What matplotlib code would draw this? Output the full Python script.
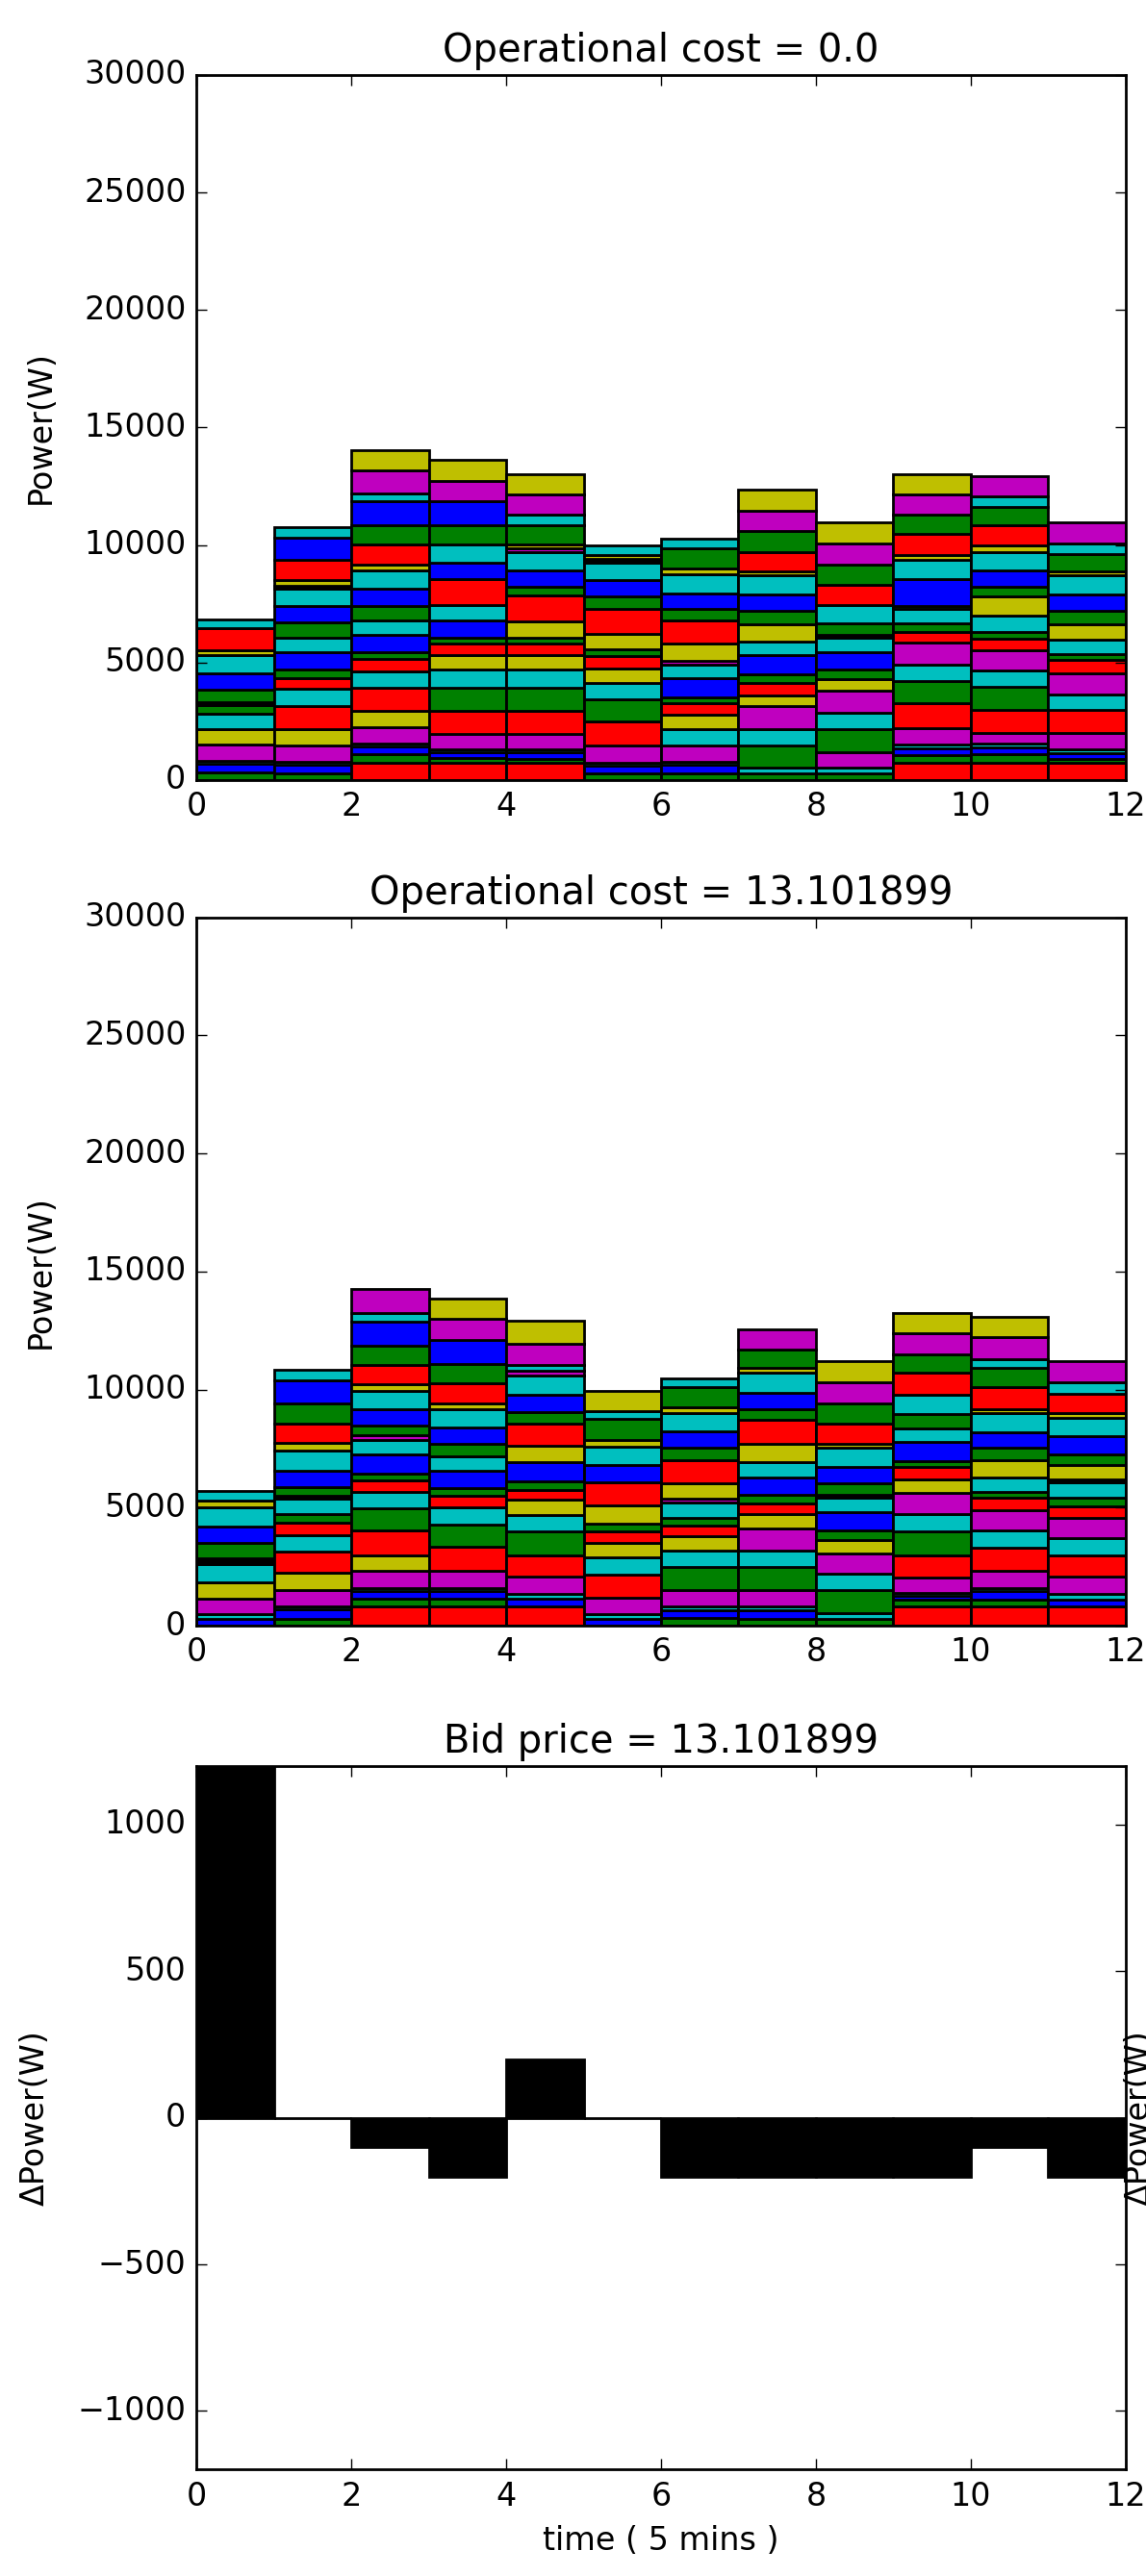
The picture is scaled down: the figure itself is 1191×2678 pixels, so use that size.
import matplotlib
matplotlib.use('Agg')
import matplotlib.pyplot as plt

plt.style.use('classic')
plt.rcParams['font.family'] = ['DejaVu Sans']

# ---------------- data ----------------
time = list(range(12))

# top panel (operational cost = 0.0): per time step, colour codes of stacked segments (bottom -> top)
p1_colors = [
    "gbcmycgkgbcyrc",
    "gbcmyrcrgbcgbckyrbc",
    "rgbcmyrcrgbcgbcyrgbcmy",
    "rgbcmrgcyrgbcrbcgbmy",
    "rgbcmrgcyrgyrgbcmygcmy",
    "gbcmrgcyrgyrgbckyc",
    "gbcmcyrgbcmyrgbcygc",
    "gcgcmyrgbcygbcyrgmy",
    "gcmgcmygbckgcrgmy",
    "rgbcmrgcmrgcgbcyrgmy",
    "rgbcmrgcmrgcygbcyrgcm",
    "rgbcmrcmrgcygbcygcm",
]
p1_heights = [
    [313, 367, 136, 680, 680, 626, 367, 136, 544, 680, 775, 200, 952, 381],
    [286, 367, 136, 680, 707, 966, 734, 449, 367, 748, 612, 653, 680, 775, 109, 245, 843, 952, 449],
    [748, 340, 340, 109, 707, 694, 1006, 680, 544, 272, 748, 612, 612, 721, 775, 272, 830, 816, 1047, 313, 1006, 857],
    [748, 177, 272, 109, 666, 966, 1006, 748, 612, 517, 231, 748, 653, 1115, 694, 748, 816, 1047, 857, 884],
    [748, 136, 313, 109, 666, 966, 1006, 748, 612, 517, 231, 694, 1088, 394, 694, 775, 163, 177, 789, 462, 857, 857],
    [286, 326, 136, 721, 1020, 952, 680, 612, 544, 272, 680, 1047, 544, 680, 762, 163, 163, 408],
    [286, 367, 136, 680, 707, 585, 517, 258, 789, 571, 177, 721, 979, 503, 680, 789, 272, 843, 408],
    [286, 231, 952, 680, 979, 490, 503, 367, 816, 585, 748, 571, 680, 816, 177, 816, 884, 884, 884],
    [286, 231, 680, 952, 707, 952, 476, 408, 748, 612, 136, 476, 789, 843, 857, 911, 884],
    [748, 313, 272, 163, 721, 1047, 952, 680, 952, 449, 367, 612, 136, 1156, 789, 204, 925, 802, 857, 857],
    [748, 340, 313, 136, 476, 952, 1020, 680, 843, 517, 272, 680, 816, 435, 680, 789, 272, 857, 775, 476, 843],
    [748, 136, 245, 163, 721, 952, 680, 911, 544, 272, 612, 653, 571, 680, 816, 177, 748, 435, 884],
]

# middle panel (operational cost = 13.101899)
p2_colors = [
    "bcmyckgbcyc",
    "gbcmyrcrgckgbcyrgbc",
    "rgbcmyrgcrgbcmgbcyrgbcm",
    "rgbcmrgcrgbcgbcyrgbmy",
    "rbcmrgcyrgbyrgbcmcmy",
    "bcmrcyrgyrbcygcy",
    "gbcmgcyrgcmyrgbcygc",
    "gbcmgcmyrgbcyrgbcygm",
    "gcgcmygbckgbcyrgmy",
    "rgbcmrgcmyrgbcgcrgmy",
    "rgbcmrcmrgcygbcyrgcmy",
    "rbcmrcmrgckygbcyrcm",
]
p2_heights = [
    [286, 190, 680, 680, 789, 231, 653, 707, 789, 299, 422],
    [286, 394, 136, 680, 748, 884, 721, 503, 381, 639, 136, 381, 680, 843, 313, 843, 857, 979, 449],
    [816, 313, 340, 136, 707, 680, 1034, 952, 707, 476, 299, 789, 612, 204, 408, 707, 748, 313, 816, 816, 1020, 367, 993],
    [816, 313, 340, 136, 707, 1034, 952, 707, 503, 313, 748, 612, 503, 721, 775, 245, 857, 802, 1020, 884, 884],
    [816, 313, 231, 721, 911, 993, 707, 653, 408, 367, 789, 707, 952, 476, 748, 789, 204, 272, 884, 979],
    [286, 190, 721, 979, 721, 612, 476, 340, 775, 993, 707, 789, 272, 884, 340, 857],
    [313, 340, 163, 680, 993, 680, 612, 476, 299, 653, 163, 653, 979, 517, 707, 789, 245, 843, 381],
    [286, 367, 163, 680, 993, 680, 952, 612, 449, 367, 748, 612, 775, 1020, 449, 721, 843, 204, 775, 857],
    [286, 231, 979, 721, 857, 571, 408, 748, 639, 109, 503, 680, 789, 177, 843, 884, 884, 884],
    [816, 272, 177, 136, 639, 952, 993, 748, 884, 571, 517, 272, 816, 571, 585, 816, 952, 775, 884, 884],
    [816, 272, 381, 136, 707, 993, 721, 870, 517, 272, 612, 707, 517, 680, 816, 136, 952, 816, 367, 925, 884],
    [816, 272, 272, 721, 911, 721, 843, 517, 367, 653, 95, 612, 449, 775, 789, 204, 816, 476, 884],
]

# bottom panel: power difference
delta_power = [1200, 0, -100, -200, 200, 0, -200, -200, -200, -200, -100, -200]

x_ticks = [0, 2, 4, 6, 8, 10, 12]
power_ticks = [0, 5000, 10000, 15000, 20000, 25000, 30000]
delta_ticks = [-1000, -500, 0, 500, 1000]

titles = ["Operational cost = 0.0", "Operational cost = 13.101899", "Bid price = 13.101899"]

# ---------------- figure ----------------
fig = plt.figure(figsize=(1191 / 200, 2678 / 200), dpi=200, facecolor='white')
left, width = 0.1717, 0.8103
ax1 = fig.add_axes([left, 0.6972, width, 0.2737])
ax2 = fig.add_axes([left, 0.3689, width, 0.2750])
ax3 = fig.add_axes([left, 0.0413, width, 0.2731])


def stacked(ax, colors, heights):
    for t, (cs, hs) in enumerate(zip(colors, heights)):
        bottom = 0
        for c, h in zip(cs, hs):
            ax.bar(time[t], h, width=1, bottom=bottom, color=c, align='edge',
                   edgecolor='k', linewidth=1)
            bottom += h


for ax, cols, hts, title in [(ax1, p1_colors, p1_heights, titles[0]),
                             (ax2, p2_colors, p2_heights, titles[1])]:
    stacked(ax, cols, hts)
    ax.set_xlim(0, 12)
    ax.set_ylim(0, 30000)
    ax.set_xticks(x_ticks)
    ax.set_yticks(power_ticks)
    ax.set_ylabel('Power(W)', labelpad=10)
    ax.set_title(title)

ax3.bar(time, delta_power, width=1, align='edge', color='k', edgecolor='k', linewidth=1)
ax3.set_xlim(0, 12)
ax3.set_ylim(-1200, 1200)
ax3.set_xticks(x_ticks)
ax3.set_yticks(delta_ticks)
ax3.set_ylabel('ΔPower(W)', labelpad=10)
ax3.set_xlabel('time ( 5 mins )')
ax3.set_title(titles[2])

# label of the neighbouring (cropped) panel, visible at the right edge
fig.text(1168 / 1191, 0.1778, 'ΔPower(W)', rotation=90, ha='left', va='center', fontsize=12)

fig.savefig('out.png', dpi=200, facecolor='white')
